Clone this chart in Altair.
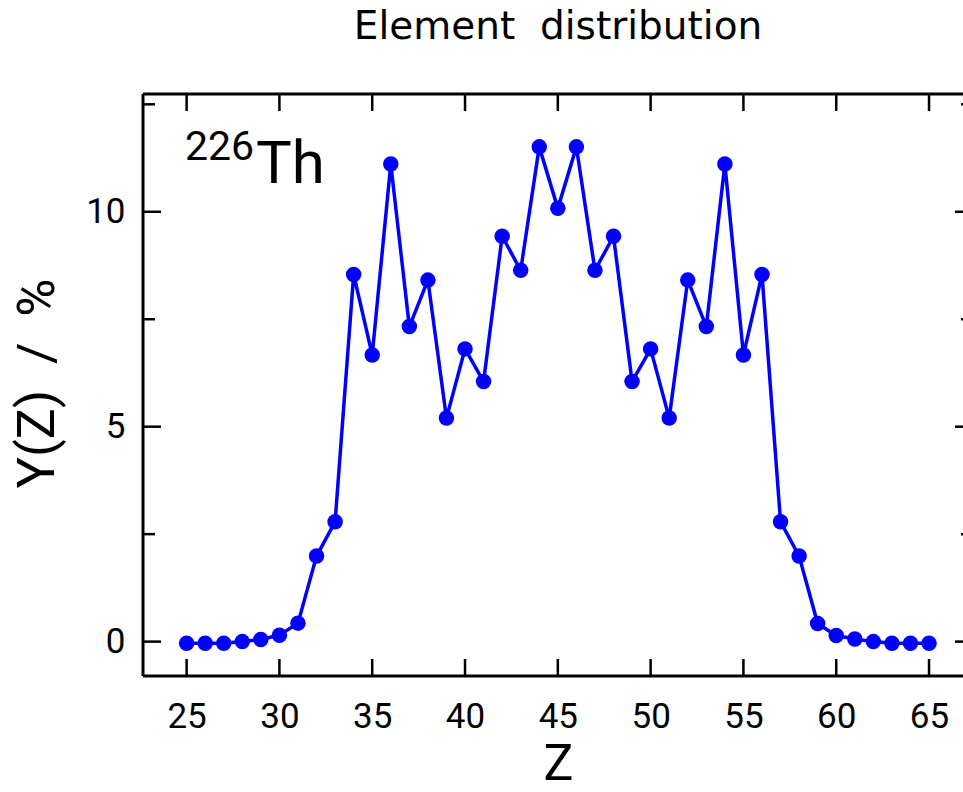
import altair as alt
import pandas as pd

# Data
Z = list(range(25, 66))
Y = [-0.04, -0.04, -0.04, 0.00, 0.05, 0.15, 0.43, 1.99, 2.79, 8.54,
     6.67, 11.11, 7.33, 8.41, 5.20, 6.81, 6.05, 9.43, 8.64, 11.51,
     10.08, 11.51, 8.64, 9.43, 6.05, 6.81, 5.20, 8.41, 7.33, 11.11,
     6.67, 8.54, 2.79, 1.99, 0.42, 0.14, 0.06, 0.00, -0.04, -0.04, -0.04]

x_ticks = [25, 30, 35, 40, 45, 50, 55, 60, 65]
y_major = [0, 5, 10]
y_minor = [2.5, 7.5, 12.5]

NB = "\u00a0"
TITLE = "Element" + NB + NB + "distribution"
X_TITLE = "Z"
Y_TITLE = "Y(Z)" + NB + NB + "/" + NB + NB + "%"

W, H = 820, 582
FONT = "Roboto"
BLUE = "#0000FF"

df = pd.DataFrame({"Z": Z, "Y": Y})
xs = alt.Scale(domain=[22.65, 66.83], nice=False, zero=False)
ys = alt.Scale(domain=[-0.80, 12.74], nice=False, zero=False)

xax = alt.Axis(
    values=x_ticks, title=X_TITLE, titleFont=FONT, titleFontSize=50,
    titleFontWeight="normal", titleColor="black",
    titleX=415, titleY=103, titleBaseline="alphabetic", titleAlign="center",
    labelFont=FONT, labelFontSize=35, labelColor="black", labelPadding=23,
    ticks=False, tickSize=0, domain=False, grid=False, labelFlush=False)
yax = alt.Axis(
    values=y_major, title=Y_TITLE, titleFont=FONT, titleFontSize=52,
    titleFontWeight="normal", titleColor="black", titleAngle=270,
    titleX=-90, titleY=289, titleBaseline="alphabetic", titleAlign="center",
    labelFont=FONT, labelFontSize=35, labelColor="black", labelPadding=18,
    ticks=False, tickSize=0, domain=False, grid=False, labelFlush=False)

line = alt.Chart(df).mark_line(color=BLUE, strokeWidth=3.5).encode(
    x=alt.X("Z:Q", scale=xs, axis=xax),
    y=alt.Y("Y:Q", scale=ys, axis=yax),
)
points = alt.Chart(df).mark_circle(color=BLUE, size=240, opacity=1).encode(
    x=alt.X("Z:Q", scale=xs, axis=xax), y=alt.Y("Y:Q", scale=ys, axis=yax))

xt = pd.DataFrame({"t": x_ticks})
ymj = pd.DataFrame({"t": y_major})
ymn = pd.DataFrame({"t": y_minor})

def xrule(y1, y2):
    return alt.Chart(xt).mark_rule(color="black", strokeWidth=2.5).encode(
        x=alt.X("t:Q", scale=xs, axis=xax), y=alt.value(y1), y2=alt.value(y2))

def yrule(d, x1, x2):
    return alt.Chart(d).mark_rule(color="black", strokeWidth=2.5).encode(
        y=alt.Y("t:Q", scale=ys, axis=yax), x=alt.value(x1), x2=alt.value(x2))

one = pd.DataFrame({"a": [0]})
frame_top = alt.Chart(one).mark_rule(color="black", strokeWidth=3).encode(
    x=alt.value(0), x2=alt.value(W), y=alt.value(0))
frame_bottom = alt.Chart(one).mark_rule(color="black", strokeWidth=3).encode(
    x=alt.value(0), x2=alt.value(W), y=alt.value(H))
frame_left = alt.Chart(one).mark_rule(color="black", strokeWidth=3).encode(
    x=alt.value(0), y=alt.value(0), y2=alt.value(H))

sup = alt.Chart(pd.DataFrame({"s": ["226"]})).mark_text(
    font=FONT, fontSize=41, align="left", baseline="alphabetic", color="black"
).encode(text="s:N", x=alt.value(42), y=alt.value(66))
el = alt.Chart(pd.DataFrame({"s": ["Th"]})).mark_text(
    font=FONT, fontSize=60, align="left", baseline="alphabetic", color="black"
).encode(text="s:N", x=alt.value(113), y=alt.value(89))
ttl = alt.Chart(pd.DataFrame({"s": [TITLE]})).mark_text(
    font="DejaVu Sans", fontSize=39, align="center", baseline="alphabetic", color="black"
).encode(text="s:N", x=alt.value(415), y=alt.value(-55))

chart = alt.layer(
    line, points,
    xrule(H - 17, H), xrule(0, 17),
    yrule(ymj, 0, 18), yrule(ymn, 0, 12),
    yrule(ymj, W - 8, W), yrule(ymn, W - 2, W),
    frame_top, frame_bottom, frame_left, sup, el, ttl,
).properties(
    width=W, height=H,
    autosize=alt.AutoSizeParams(type="none"),
    padding={"left": 143, "top": 94, "right": 0, "bottom": 116},
).configure_view(stroke=None).configure(background="white")

chart.save("out.html", embed_options={"renderer": "svg", "actions": False})
